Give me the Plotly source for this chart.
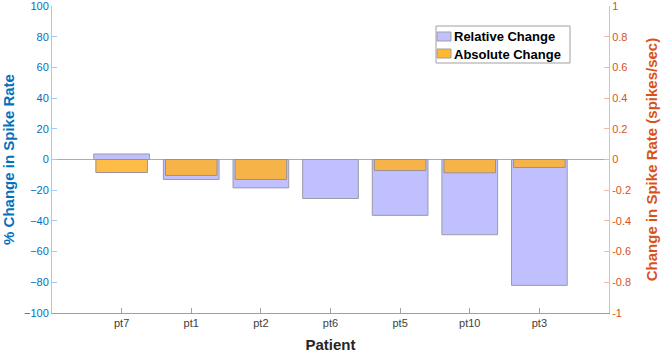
import plotly.graph_objects as go

patients = ["pt7", "pt1", "pt2", "pt6", "pt5", "pt10", "pt3"]
relative_change = [3.6, -13.0, -18.5, -25.4, -36.4, -49.0, -82.0]
absolute_change = [-0.085, -0.104, -0.13, None, -0.072, -0.087, -0.052]
left_ticks = [-100, -80, -60, -40, -20, 0, 20, 40, 60, 80, 100]
right_ticks = [-1, -0.8, -0.6, -0.4, -0.2, 0, 0.2, 0.4, 0.6, 0.8, 1]
right_labels = ["-1", "-0.8", "-0.6", "-0.4", "-0.2", "0", "0.2", "0.4", "0.6", "0.8", "1"]
series_names = ["Relative Change", "Absolute Change"]

xpos = list(range(1, len(patients) + 1))
FONT = "Liberation Sans, Arial, sans-serif"
BLUE = "#0072BD"
ORANGE = "#D95319"
REL_COLOR = "#c0c0ff"
ABS_COLOR = "rgba(255,178,40,0.85)"

fig = go.Figure()
fig.add_trace(go.Bar(
    x=xpos, y=relative_change, name=series_names[0], width=0.8,
    marker=dict(color=REL_COLOR, line=dict(color="#9a9aaa", width=1)),
    yaxis="y"))
fig.add_trace(go.Bar(
    x=xpos, y=absolute_change, name=series_names[1], width=0.74,
    marker=dict(color=ABS_COLOR, line=dict(color="#9a9090", width=1)),
    yaxis="y2"))

W, H = 669, 353
ML, MR, MT, MB = 52, 60, 6, 40
pw, ph = W - ML - MR, H - MT - MB

def px(x):
    return (x - ML) / pw

def py(y):
    return (H - MB - y) / ph

# custom compact legend (box, swatches, text)
shapes = [
    dict(type="rect", xref="paper", yref="paper", x0=px(436), x1=px(570), y0=py(63), y1=py(26),
         line=dict(color="#a0a0a0", width=1), fillcolor="white", layer="above"),
    dict(type="rect", xref="paper", yref="paper", x0=px(437), x1=px(451), y0=py(41), y1=py(32),
         line=dict(color="#a0a0a0", width=1), fillcolor=REL_COLOR, layer="above"),
    dict(type="rect", xref="paper", yref="paper", x0=px(437), x1=px(451), y0=py(58), y1=py(49),
         line=dict(color="#a0a0a0", width=1), fillcolor="#ffb832", layer="above"),
]
annotations = [
    dict(text=series_names[0], xref="paper", yref="paper", x=px(452), y=py(36.5),
         xanchor="left", yanchor="middle", showarrow=False,
         font=dict(family=FONT, size=13, color="#000", weight="bold")),
    dict(text=series_names[1], xref="paper", yref="paper", x=px(452), y=py(54.5),
         xanchor="left", yanchor="middle", showarrow=False,
         font=dict(family=FONT, size=13, color="#000", weight="bold")),
]

fig.update_layout(
    width=W, height=H,
    margin=dict(l=ML, r=MR, t=MT, b=MB, autoexpand=False),
    paper_bgcolor="white", plot_bgcolor="white",
    barmode="overlay",
    font=dict(family=FONT, size=11, color="#262626"),
    showlegend=False,
    shapes=shapes, annotations=annotations,
    xaxis=dict(range=[0, 8], tickvals=xpos, ticktext=patients, automargin=False,
               ticks="inside", ticklen=5, tickcolor="#a0a0a0",
               showline=True, linecolor="#a0a0a0", linewidth=1,
               showgrid=False, zeroline=False, ticklabeloverflow="allow",
               tickfont=dict(size=11, color="#404040"),
               title=dict(text="Patient", standoff=11,
                          font=dict(size=15, color="#262626", weight="bold"))),
    yaxis=dict(range=[-100, 100], tickvals=left_ticks, automargin=False,
               ticks="inside", ticklen=5, tickcolor="#a8c8e8",
               showline=True, linecolor="#a8c8e8", linewidth=1,
               showgrid=False, zeroline=True, zerolinecolor="#c8a0a0", zerolinewidth=1,
               ticklabeloverflow="allow",
               tickfont=dict(size=11, color=BLUE),
               title=dict(text="% Change in Spike Rate", standoff=8,
                          font=dict(size=15, color=BLUE, weight="bold"))),
    yaxis2=dict(range=[-1, 1], tickvals=right_ticks, ticktext=right_labels,
                overlaying="y", side="right", anchor="x", automargin=False,
                ticks="inside", ticklen=5, tickcolor="#f0b8a8",
                showline=True, linecolor="#f0b8a8", linewidth=1,
                showgrid=False, zeroline=False, ticklabeloverflow="allow",
                tickfont=dict(size=11, color=ORANGE),
                title=dict(text="Change in Spike Rate (spikes/sec)", standoff=16,
                           font=dict(size=15, color=ORANGE, weight="bold"))),
)

fig.write_html("out.html", config={"displayModeBar": False},
               post_script="document.body.style.margin='0';")
